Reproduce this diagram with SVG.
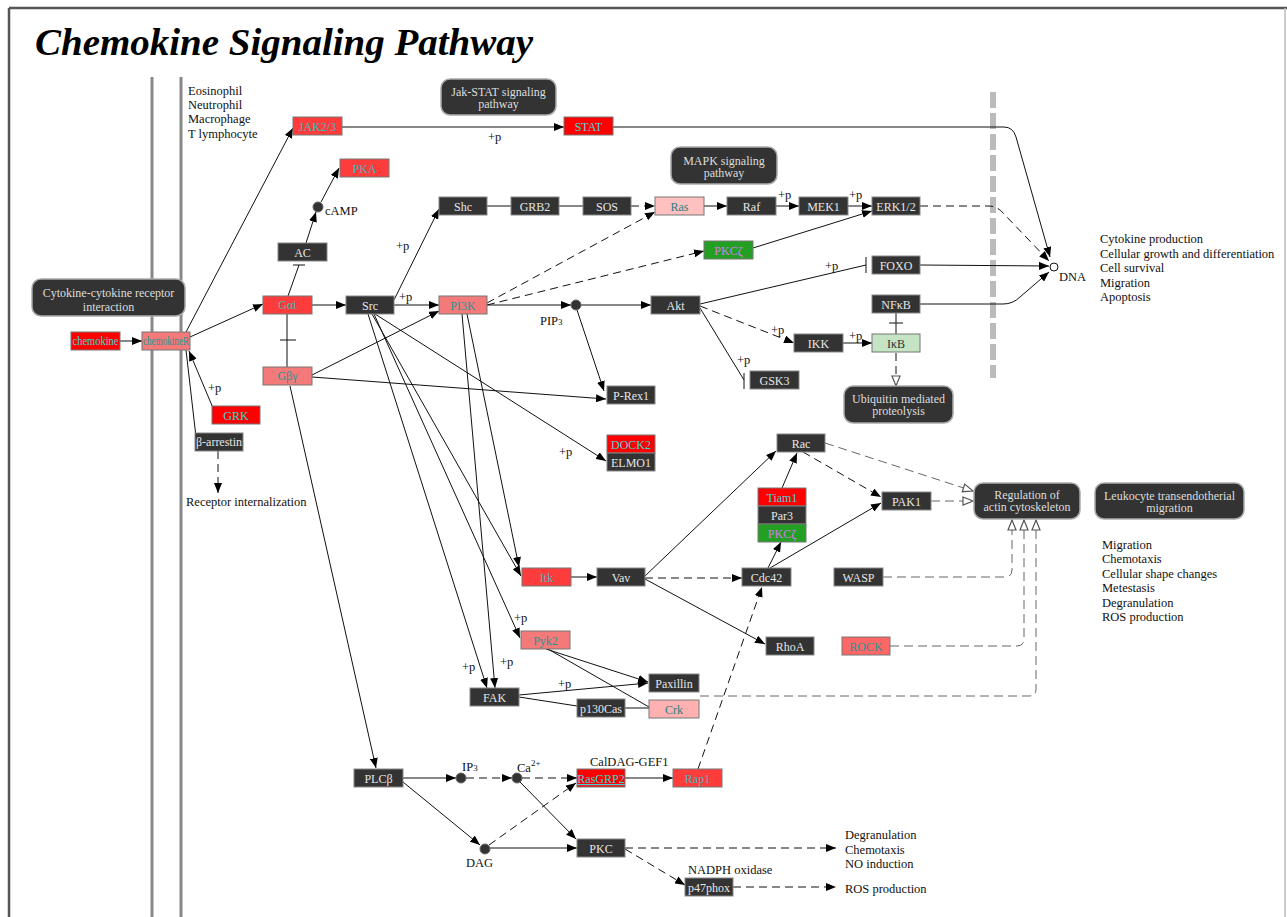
<svg xmlns="http://www.w3.org/2000/svg" width="1287" height="917" viewBox="0 0 1287 917">
<style>
text{font-family:"Liberation Serif","Times New Roman",serif}
.l{font-size:12px;text-anchor:middle}
.a{font-size:12.5px;fill:#111}
.dk rect{fill:#333;stroke:#888}
.dk text{fill:#e6e6e6}
.rd rect{fill:#ff0000;stroke:#777}
.rd text{fill:#3cd6d6}
.r2 rect{fill:#ff3c3c;stroke:#777}
.r2 text{fill:#3ab8b8}
.sl rect{fill:#f47a7a;stroke:#777}
.sl text{fill:#2a9494}
.pk rect{fill:#ffc0c0;stroke:#777}
.pk text{fill:#2a8080}
.gr rect{fill:#23a023;stroke:#777}
.gr text{fill:#d67ae6}
.lg rect{fill:#c4e4c4;stroke:#777}
.lg text{fill:#333}
.pw rect{fill:#333;stroke:#aaa;stroke-width:1.5}
.pw text{fill:#ddd;font-size:12px;text-anchor:middle}
.e path,.e line{fill:none;stroke:#111;stroke-width:1}
.e .d{stroke-dasharray:8 5}
.e .g{stroke:#666;stroke-dasharray:9 5}
.dot{fill:#333;stroke:#666}
</style>
<defs>
<marker id="ar" viewBox="0 0 10 8" refX="10" refY="4" markerWidth="10" markerHeight="8" markerUnits="userSpaceOnUse" orient="auto"><path d="M0,0L10,4L0,8z" fill="#000"/></marker>
<marker id="op" viewBox="0 0 12 10" refX="11" refY="5" markerWidth="12" markerHeight="10" markerUnits="userSpaceOnUse" orient="auto"><path d="M1,1L11,5L1,9z" fill="#fff" stroke="#555" stroke-width="1.2"/></marker>
</defs>
<rect width="1287" height="917" fill="#fff"/>
<!-- frame -->
<line x1="9" y1="8" x2="1287" y2="8" stroke="#555" stroke-width="2.5"/>
<line x1="9" y1="8" x2="9" y2="917" stroke="#555" stroke-width="2.5"/>
<line x1="1285" y1="8" x2="1285" y2="917" stroke="#bbb" stroke-width="1.5"/>
<text x="35" y="55" font-size="38" font-weight="bold" font-style="italic" textLength="498" lengthAdjust="spacingAndGlyphs">Chemokine Signaling Pathway</text>
<!-- membranes -->
<line x1="152" y1="77" x2="152" y2="917" stroke="#888" stroke-width="3"/>
<line x1="181" y1="77" x2="181" y2="917" stroke="#888" stroke-width="3"/>
<line x1="993" y1="92" x2="993" y2="378" stroke="#bbb" stroke-width="6" stroke-dasharray="16 5"/>

<g id="connectors" class="e">
<path d="M120,341L142,341" marker-end="url(#ar)"/>
<path d="M190,337L263,304" marker-end="url(#ar)"/>
<path d="M186,332L293,128" marker-end="url(#ar)"/>
<path d="M342,127L564,127" marker-end="url(#ar)"/>
<path d="M213,408L189,351" marker-end="url(#ar)"/>
<path d="M186,350L196,437"/>
<path class="d" d="M218,451L218,493" marker-end="url(#ar)"/>
<path d="M288,296L299,265M293,265L305,265"/>
<path d="M306,243L316,212" marker-end="url(#ar)"/>
<path d="M321,202L339,168" marker-end="url(#ar)"/>
<path d="M287,314L287,367M280,340L296,340"/>
<path d="M312,305L346,305" marker-end="url(#ar)"/>
<path d="M394,300L439,209" marker-end="url(#ar)"/>
<path d="M394,305L439,305" marker-end="url(#ar)"/>
<path d="M487,206L511,206M559,206L583,206"/>
<path class="d" d="M631,206L655,206" marker-end="url(#ar)"/>
<path class="d" d="M487,303L655,212" marker-end="url(#ar)"/>
<path class="d" d="M487,305L704,251" marker-end="url(#ar)"/>
<path d="M704,206L727,206" marker-end="url(#ar)"/>
<path d="M776,206L799,206" marker-end="url(#ar)"/>
<path d="M848,206L872,206" marker-end="url(#ar)"/>
<path d="M753,248L872,211" marker-end="url(#ar)"/>
<path class="d" d="M920,206L988,206Q998,206 1004,214L1049,261" marker-end="url(#ar)"/>
<path d="M613,127L1004,127Q1013,127 1016,137L1050,257" marker-end="url(#ar)"/>
<path d="M920,265L1049,266" marker-end="url(#ar)"/>
<path d="M920,304L1003,304Q1013,304 1020,297L1049,272" marker-end="url(#ar)"/>
<path d="M700,304L866,265M866,257L866,273"/>
<path d="M487,305L571,305" marker-end="url(#ar)"/>
<path d="M581,305L651,305" marker-end="url(#ar)"/>
<path d="M577,310L604,391" marker-end="url(#ar)"/>
<path class="d" d="M700,306L794,343" marker-end="url(#ar)"/>
<path d="M700,308L744,380M744,373L744,389"/>
<path d="M843,343L872,343" marker-end="url(#ar)"/>
<path d="M896,313L896,334M889,323L903,323"/>
<path class="d" d="M896,353L896,386" marker-end="url(#op)"/>
<path d="M312,375L439,311" marker-end="url(#ar)"/>
<path d="M312,377L606,399" marker-end="url(#ar)"/>
<path d="M375,314L606,461" marker-end="url(#ar)"/>
<path d="M372,314L521,576" marker-end="url(#ar)"/>
<path d="M467,314L519,567" marker-end="url(#ar)"/>
<path d="M368,314L487,688" marker-end="url(#ar)"/>
<path d="M462,314L495,688" marker-end="url(#ar)"/>
<path d="M374,314L520,638" marker-end="url(#ar)"/>
<path d="M571,577L597,577" marker-end="url(#ar)"/>
<path d="M645,576L776,451" marker-end="url(#ar)"/>
<path class="d" d="M645,578L742,578" marker-end="url(#ar)"/>
<path d="M645,579L765,644" marker-end="url(#ar)"/>
<path class="d" d="M698,769L762,587" marker-end="url(#ar)"/>
<path d="M768,568L781,542" marker-end="url(#ar)"/>
<path d="M770,568L881,503" marker-end="url(#ar)"/>
<path d="M782,488L797,453" marker-end="url(#ar)"/>
<path class="d" d="M803,452L881,497" marker-end="url(#ar)"/>
<path class="g" d="M825,443L973,491" marker-end="url(#op)"/>
<path class="g" d="M931,501L973,501" marker-end="url(#op)"/>
<path class="g" d="M883,577L1005,577Q1012,577 1012,570L1012,520" marker-end="url(#op)"/>
<path class="g" d="M890,646L1017,646Q1024,646 1024,639L1024,520" marker-end="url(#op)"/>
<path class="g" d="M700,696L1029,696Q1036,696 1036,689L1036,520" marker-end="url(#op)"/>
<path d="M546,649L648,682" marker-end="url(#ar)"/>
<path d="M548,649L649,707"/>
<path d="M519,695L648,683" marker-end="url(#ar)"/>
<path d="M519,697L577,706M625,708L649,708"/>
<path d="M290,386L376,768" marker-end="url(#ar)"/>
<path d="M403,778L456,778" marker-end="url(#ar)"/>
<path class="d" d="M466,778L512,778" marker-end="url(#ar)"/>
<path class="d" d="M522,778L577,778" marker-end="url(#ar)"/>
<path d="M520,782L576,839" marker-end="url(#ar)"/>
<path d="M403,782L480,845" marker-end="url(#ar)"/>
<path class="d" d="M489,845L576,783" marker-end="url(#ar)"/>
<path d="M490,848L577,848" marker-end="url(#ar)"/>
<path d="M625,778L673,778" marker-end="url(#ar)"/>
<path class="d" d="M625,848L836,848" marker-end="url(#ar)"/>
<path class="d" d="M625,849L685,885" marker-end="url(#ar)"/>
<path class="d" d="M733,887L836,887" marker-end="url(#ar)"/>
</g>

<!-- compound dots -->
<g id="cAMP"><circle class="dot" cx="318" cy="207" r="5"/><text class="a" x="325" y="215">cAMP</text></g>
<g id="PIP3"><circle class="dot" cx="576" cy="305" r="5"/><text class="a" x="540" y="325">PIP<tspan font-size="9">3</tspan></text></g>
<g id="IP3"><circle class="dot" cx="461" cy="778" r="5"/><text class="a" x="462" y="771">IP<tspan font-size="9">3</tspan></text></g>
<g id="Ca"><circle class="dot" cx="517" cy="778" r="5"/><text class="a" x="517" y="772">Ca<tspan font-size="9" dy="-6">2+</tspan></text></g>
<g id="DAG"><circle class="dot" cx="485" cy="849" r="5"/><text class="a" x="466" y="867">DAG</text></g>
<g id="DNA"><circle cx="1054" cy="267" r="4" fill="#fff" stroke="#111"/><text class="a" x="1059" y="281">DNA</text></g>

<!-- nodes -->
<g id="chemokine" class="rd"><rect x="71" y="332" width="49" height="18"/><text class="l" x="95.5" y="345" font-size="11" textLength="46" lengthAdjust="spacingAndGlyphs">chemokine</text></g>
<g id="chemokineR" class="sl"><rect x="142" y="332" width="48" height="18"/><text class="l" x="166" y="345" font-size="11" textLength="46" lengthAdjust="spacingAndGlyphs">chemokineR</text></g>
<g id="Gai" class="r2"><rect x="263" y="296" width="49" height="18"/><text class="l" x="287.5" y="309">Gαi</text></g>
<g id="Gby" class="sl"><rect x="263" y="367" width="49" height="18"/><text class="l" x="287.5" y="380">Gβγ</text></g>
<g id="GRK" class="rd"><rect x="212" y="406" width="48" height="18"/><text class="l" x="236" y="420">GRK</text></g>
<g id="barrestin" class="dk"><rect x="195" y="433" width="48" height="18"/><text class="l" x="219" y="446">β-arrestin</text></g>
<g id="AC" class="dk"><rect x="278" y="243" width="49" height="18"/><text class="l" x="302.5" y="257">AC</text></g>
<g id="PKA" class="r2"><rect x="340" y="159" width="49" height="18"/><text class="l" x="364.5" y="173">PKA</text></g>
<g id="JAK" class="r2"><rect x="293" y="117" width="49" height="18"/><text class="l" x="317.5" y="131">JAK2/3</text></g>
<g id="STAT" class="rd"><rect x="564" y="117" width="49" height="18"/><text class="l" x="588.5" y="131">STAT</text></g>
<g id="Src" class="dk"><rect x="346" y="296" width="48" height="18"/><text class="l" x="370" y="310">Src</text></g>
<g id="Shc" class="dk"><rect x="439" y="197" width="48" height="18"/><text class="l" x="463" y="211">Shc</text></g>
<g id="GRB2" class="dk"><rect x="511" y="197" width="48" height="18"/><text class="l" x="535" y="211">GRB2</text></g>
<g id="SOS" class="dk"><rect x="583" y="197" width="48" height="18"/><text class="l" x="607" y="211">SOS</text></g>
<g id="Ras" class="pk"><rect x="655" y="197" width="49" height="18"/><text class="l" x="679.5" y="211">Ras</text></g>
<g id="Raf" class="dk"><rect x="727" y="197" width="49" height="18"/><text class="l" x="751.5" y="211">Raf</text></g>
<g id="MEK1" class="dk"><rect x="799" y="197" width="49" height="18"/><text class="l" x="823.5" y="211">MEK1</text></g>
<g id="ERK" class="dk"><rect x="872" y="197" width="48" height="18"/><text class="l" x="896" y="211">ERK1/2</text></g>
<g id="PKCz1" class="gr"><rect x="704" y="241" width="49" height="18"/><text class="l" x="728.5" y="255">PKCζ</text></g>
<g id="FOXO" class="dk"><rect x="872" y="256" width="48" height="18"/><text class="l" x="896" y="270">FOXO</text></g>
<g id="NFkB" class="dk"><rect x="872" y="295" width="48" height="18"/><text class="l" x="896" y="309">NFκB</text></g>
<g id="PI3K" class="sl"><rect x="439" y="296" width="48" height="18"/><text class="l" x="463" y="310">PI3K</text></g>
<g id="Akt" class="dk"><rect x="651" y="296" width="49" height="18"/><text class="l" x="675.5" y="310">Akt</text></g>
<g id="IKK" class="dk"><rect x="794" y="334" width="49" height="18"/><text class="l" x="818.5" y="348">IKK</text></g>
<g id="IkB" class="lg"><rect x="872" y="334" width="48" height="18"/><text class="l" x="896" y="348">IκB</text></g>
<g id="GSK3" class="dk"><rect x="750" y="371" width="49" height="18"/><text class="l" x="774.5" y="385">GSK3</text></g>
<g id="PRex1" class="dk"><rect x="607" y="386" width="48" height="18"/><text class="l" x="631" y="400">P-Rex1</text></g>
<g id="DOCK2" class="rd"><rect x="607" y="435" width="48" height="18"/><text class="l" x="631" y="449">DOCK2</text></g>
<g id="ELMO1" class="dk"><rect x="607" y="453" width="48" height="18"/><text class="l" x="631" y="467">ELMO1</text></g>
<g id="Rac" class="dk"><rect x="777" y="434" width="48" height="18"/><text class="l" x="801" y="448">Rac</text></g>
<g id="Tiam1" class="rd"><rect x="758" y="488" width="48" height="18"/><text class="l" x="782" y="502">Tiam1</text></g>
<g id="Par3" class="dk"><rect x="758" y="506" width="48" height="18"/><text class="l" x="782" y="520">Par3</text></g>
<g id="PKCz2" class="gr"><rect x="758" y="524" width="48" height="18"/><text class="l" x="782" y="538">PKCζ</text></g>
<g id="PAK1" class="dk"><rect x="882" y="492" width="49" height="18"/><text class="l" x="906.5" y="506">PAK1</text></g>
<g id="Cdc42" class="dk"><rect x="742" y="568" width="49" height="18"/><text class="l" x="766.5" y="582">Cdc42</text></g>
<g id="WASP" class="dk"><rect x="834" y="568" width="49" height="18"/><text class="l" x="858.5" y="582">WASP</text></g>
<g id="Itk" class="r2"><rect x="522" y="568" width="49" height="18"/><text class="l" x="546.5" y="582">Itk</text></g>
<g id="Vav" class="dk"><rect x="597" y="568" width="48" height="18"/><text class="l" x="621" y="582">Vav</text></g>
<g id="RhoA" class="dk"><rect x="766" y="637" width="48" height="18"/><text class="l" x="790" y="651">RhoA</text></g>
<g id="ROCK" class="sl"><rect x="842" y="637" width="48" height="18" style="fill:#f66"/><text class="l" x="866" y="651">ROCK</text></g>
<g id="Pyk2" class="sl"><rect x="521" y="631" width="49" height="18"/><text class="l" x="545.5" y="645">Pyk2</text></g>
<g id="FAK" class="dk"><rect x="470" y="688" width="49" height="18"/><text class="l" x="494.5" y="702">FAK</text></g>
<g id="Paxillin" class="dk"><rect x="649" y="674" width="50" height="18"/><text class="l" x="674" y="688">Paxillin</text></g>
<g id="Crk" class="pk"><rect x="649" y="700" width="50" height="18" style="fill:#ffb0b0"/><text class="l" x="674" y="714">Crk</text></g>
<g id="p130Cas" class="dk"><rect x="577" y="699" width="48" height="18"/><text class="l" x="601" y="713">p130Cas</text></g>
<g id="PLCb" class="dk"><rect x="354" y="769" width="49" height="18"/><text class="l" x="378.5" y="783">PLCβ</text></g>
<g id="RasGRP2" class="rd"><rect x="577" y="769" width="48" height="18"/><text class="l" x="601" y="783" text-decoration="underline">RasGRP2</text></g>
<g id="Rap1" class="r2"><rect x="673" y="769" width="49" height="18"/><text class="l" x="697.5" y="783">Rap1</text></g>
<g id="PKC" class="dk"><rect x="577" y="839" width="48" height="18"/><text class="l" x="601" y="853">PKC</text></g>
<g id="p47phox" class="dk"><rect x="685" y="878" width="48" height="18"/><text class="l" x="709" y="892">p47phox</text></g>

<!-- pathway boxes -->
<g id="cytokine" class="pw"><rect x="32" y="279" width="153" height="37" rx="9"/><text x="108.5" y="297">Cytokine-cytokine receptor</text><text x="108.5" y="311">interaction</text></g>
<g id="jakstat" class="pw"><rect x="441" y="79" width="115" height="36" rx="9"/><text x="498.5" y="96">Jak-STAT signaling</text><text x="498.5" y="108">pathway</text></g>
<g id="mapk" class="pw"><rect x="671" y="147" width="106" height="37" rx="9"/><text x="724" y="165">MAPK signaling</text><text x="724" y="177">pathway</text></g>
<g id="ubiq" class="pw"><rect x="844" y="386" width="109" height="37" rx="9"/><text x="898.5" y="403">Ubiquitin mediated</text><text x="898.5" y="415">proteolysis</text></g>
<g id="actin" class="pw"><rect x="974" y="483" width="106" height="36" rx="9"/><text x="1027" y="499">Regulation of</text><text x="1027" y="511">actin cytoskeleton</text></g>
<g id="leuko" class="pw"><rect x="1095" y="483" width="149" height="36" rx="9"/><text x="1169.5" y="500">Leukocyte transendotherial</text><text x="1169.5" y="512">migration</text></g>

<!-- labels -->
<g id="labels" class="a">
<text x="188" y="95">Eosinophil</text>
<text x="188" y="109">Neutrophil</text>
<text x="188" y="123">Macrophage</text>
<text x="188" y="138">T lymphocyte</text>
<text x="186" y="506">Receptor internalization</text>
<text x="208" y="392">+p</text>
<text x="488" y="141">+p</text>
<text x="396" y="250">+p</text>
<text x="399" y="301">+p</text>
<text x="778" y="199">+p</text>
<text x="849" y="199">+p</text>
<text x="825" y="270">+p</text>
<text x="771" y="334">+p</text>
<text x="737" y="364">+p</text>
<text x="849" y="340">+p</text>
<text x="559" y="456">+p</text>
<text x="514" y="622">+p</text>
<text x="462" y="671">+p</text>
<text x="500" y="666">+p</text>
<text x="558" y="688">+p</text>
<text x="590" y="766">CalDAG-GEF1</text>
<text x="688" y="874">NADPH oxidase</text>
<text x="845" y="839">Degranulation</text>
<text x="845" y="854">Chemotaxis</text>
<text x="845" y="868">NO induction</text>
<text x="845" y="893">ROS production</text>
<text x="1100" y="243">Cytokine production</text>
<text x="1100" y="258">Cellular growth and differentiation</text>
<text x="1100" y="272">Cell survival</text>
<text x="1100" y="287">Migration</text>
<text x="1100" y="301">Apoptosis</text>
<text x="1102" y="549">Migration</text>
<text x="1102" y="563">Chemotaxis</text>
<text x="1102" y="578">Cellular shape changes</text>
<text x="1102" y="592">Metestasis</text>
<text x="1102" y="607">Degranulation</text>
<text x="1102" y="621">ROS production</text>
</g>
</svg>
